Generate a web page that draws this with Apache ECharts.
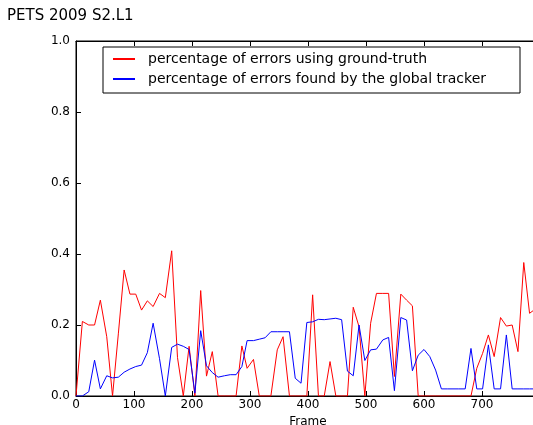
<!DOCTYPE html>
<html>
<head>
<meta charset="utf-8">
<script src="https://cdn.jsdelivr.net/npm/echarts@6/dist/echarts.min.js"></script>
<style>
html,body{margin:0;padding:0;background:#fff;}
#chart{width:533px;height:425px;}
</style>
</head>
<body>
<div id="chart"></div>
<script>
const titleText = 'PETS 2009 S2.L1';
const seriesNames = ['percentage of errors using ground-truth', 'percentage of errors found by the global tracker'];
const frames = [0,11,22,32,42,53,63,73,83,93,103,113,123,133,144,154,165,175,185,195,205,215,225,235,245,256,266,276,286,295,306,316,326,336,347,357,368,378,388,398,408,418,428,438,448,458,468,478,488,498,508,518,529,539,549,560,570,580,590,600,610,620,630,640,650,660,671,681,691,701,711,721,732,742,752,762,772,782,792];
const groundTruth = [0,0.21,0.20,0.20,0.27,0.167,0,0.175,0.355,0.287,0.287,0.242,0.268,0.252,0.289,0.277,0.409,0.108,0,0.14,0,0.297,0.056,0.125,0,0,0,0,0.141,0.078,0.103,0,0,0,0.13,0.167,0,0,0,0,0.285,0,0,0.097,0,0,0,0.25,0.195,0,0.205,0.289,0.289,0.289,0.055,0.287,0.27,0.254,0,0,0,0,0,0,0,0,0,0,0.078,0.12,0.172,0.111,0.221,0.197,0.2,0.125,0.376,0.233,0.245];
const globalTracker = [0,0,0.012,0.101,0.02,0.057,0.051,0.053,0.067,0.076,0.083,0.087,0.122,0.205,0.105,0,0.137,0.146,0.14,0.131,0.008,0.184,0.085,0.066,0.053,0.057,0.06,0.06,0.083,0.156,0.156,0.16,0.164,0.181,0.181,0.181,0.181,0.05,0.036,0.207,0.209,0.216,0.215,0.217,0.219,0.215,0.07,0.057,0.2,0.1,0.13,0.132,0.158,0.165,0.015,0.221,0.214,0.071,0.115,0.131,0.111,0.073,0.02,0.02,0.02,0.02,0.02,0.134,0.02,0.02,0.144,0.02,0.02,0.172,0.02,0.02,0.02,0.02,0.02];
const xName = 'Frame';

const font = 'DejaVu Sans';
const chart = echarts.init(document.getElementById('chart'), null, {renderer: 'canvas'});
const pairs = (ys) => frames.map((f, i) => [f, ys[i]]);
chart.setOption({
  animation: false,
  backgroundColor: '#fff',
  title: {text: titleText, left: 2, top: 4, textStyle: {fontFamily: font, fontSize: 15, fontWeight: 'normal', color: '#000'}},
  legend: {
    orient: 'vertical', left: 103, top: 47,
    padding: [5, 34, 7, 10], itemGap: 6,
    itemWidth: 22, itemHeight: 2,
    borderColor: '#000', borderWidth: 1, backgroundColor: '#fff',
    textStyle: {fontFamily: font, fontSize: 14, color: '#000', padding: [0, 0, 0, 8]},
    data: [
      {name: seriesNames[0], icon: 'rect'},
      {name: seriesNames[1], icon: 'rect'}
    ]
  },
  grid: {left: 76, top: 41, width: 464, height: 355, show: true, borderColor: '#000', borderWidth: 1,
         containLabel: false, outerBoundsMode: 'none'},
  xAxis: [
    {type: 'value', min: 0, max: 800, interval: 100, position: 'bottom',
     name: xName, nameLocation: 'middle', nameGap: 16,
     nameTextStyle: {fontFamily: font, fontSize: 12, color: '#000'},
     axisLine: {lineStyle: {color: '#000'}},
     axisTick: {inside: true, length: 5, lineStyle: {color: '#000'}},
     axisLabel: {fontFamily: font, fontSize: 12, color: '#000', margin: 3, showMaxLabel: false},
     splitLine: {show: false}},
    {type: 'value', min: 0, max: 800, interval: 100, position: 'top',
     axisLine: {lineStyle: {color: '#000'}},
     axisTick: {inside: true, length: 5, lineStyle: {color: '#000'}},
     axisLabel: {show: false}, splitLine: {show: false}}
  ],
  yAxis: {type: 'value', min: 0, max: 1, interval: 0.2,
    axisLine: {show: true, lineStyle: {color: '#000'}},
    axisTick: {show: true, inside: true, length: 5, lineStyle: {color: '#000'}},
    axisLabel: {fontFamily: font, fontSize: 12, color: '#000', margin: 6, formatter: v => v.toFixed(1)},
    splitLine: {show: false}},
  series: [
    {name: seriesNames[0], type: 'line', data: pairs(groundTruth), showSymbol: false, symbol: 'none',
     itemStyle: {color: '#ff0000'}, lineStyle: {color: '#ff0000', width: 1}},
    {name: seriesNames[1], type: 'line', data: pairs(globalTracker), showSymbol: false, symbol: 'none',
     itemStyle: {color: '#0000ff'}, lineStyle: {color: '#0000ff', width: 1}}
  ]
});
</script>
</body>
</html>
